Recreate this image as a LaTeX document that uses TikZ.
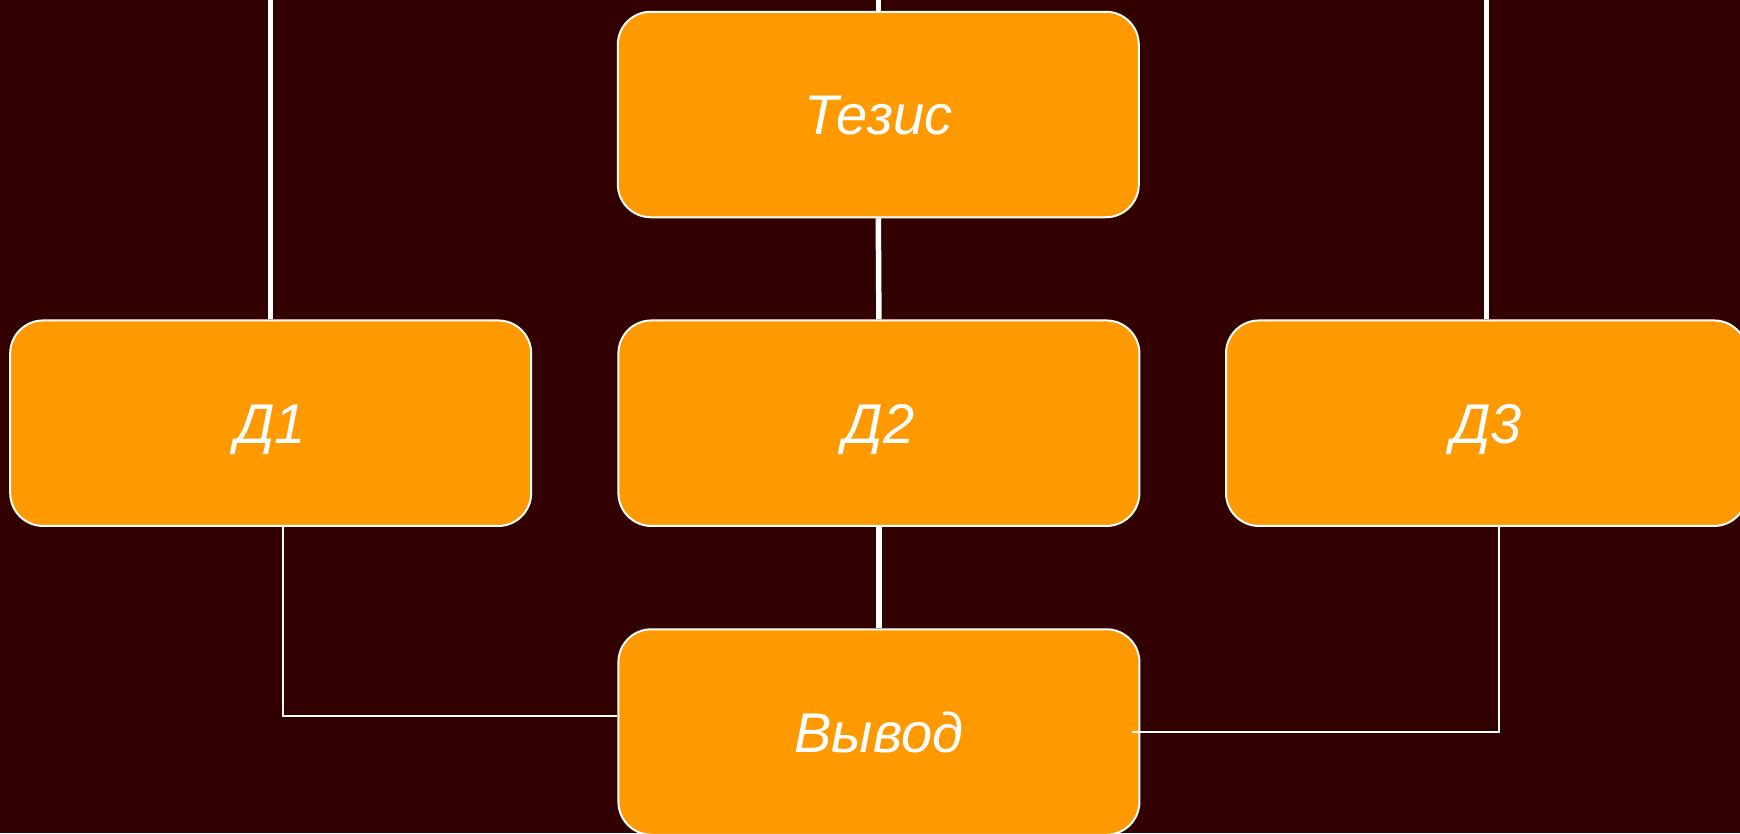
\documentclass[tikz,border=0pt]{standalone}
\usepackage{fontspec}
\setmainfont{Liberation Sans}
\definecolor{bgmaroon}{RGB}{51,0,0}
\definecolor{boxorange}{RGB}{255,153,0}
\tikzset{
  argbox/.style={draw=white, line width=2pt, fill=boxorange, rounded corners=33pt,
    minimum width=521pt, minimum height=205.5pt, inner sep=0pt,
    text=white, font=\fontsize{56}{60}\selectfont\itshape,
    text height=40pt, text depth=0pt},
  thickline/.style={draw=white, line width=5.5pt},
  thinline/.style={draw=white, line width=1.8pt}
}
\begin{document}
\begin{tikzpicture}[x=1pt,y=-1pt]
\useasboundingbox (0,0) rectangle (1740,833);
\fill[bgmaroon] (0,0) rectangle (1740,833);
\coordinate (top) at (0,-10);
\node[argbox] (tez) at (878.3,114.5) {Тезис};
\node[argbox] (d1) at (270.7,423.2) {Д1};
\node[argbox] (d2) at (878.9,423.2) {Д2};
\node[argbox] (d3) at (1486.5,423.2) {Д3};
\node[argbox] (out) at (878.9,732) {Вывод};
\draw[thickline] (d1.north) -- (d1.north |- top);
\draw[thickline] (tez.north) -- (tez.north |- top);
\draw[thickline] (d3.north) -- (d3.north |- top);
\draw[thickline] (tez.south) -- (d2.north);
\draw[thickline] (d2.south) -- (out.north);
\coordinate (j1) at (283,715.7);
\coordinate (j3) at (1499,732);
\coordinate (e3) at ([xshift=-8pt]out.east);
\draw[thinline] (j1 |- d1.south) -- (j1) -- (j1 -| out.west);
\draw[thinline] (j3 |- d3.south) -- (j3) -- (e3);
\end{tikzpicture}
\end{document}
